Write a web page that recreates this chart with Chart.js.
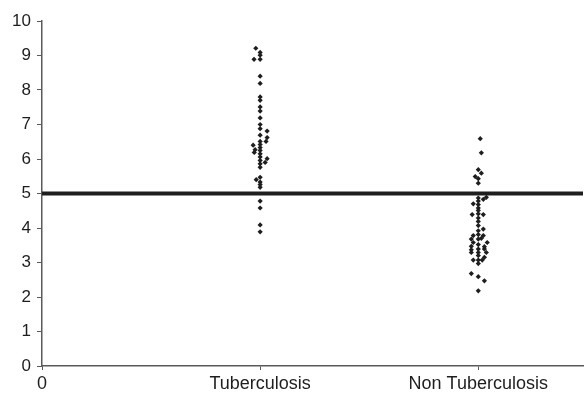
<!DOCTYPE html>
<html>
<head>
<meta charset="utf-8">
<script src="https://cdn.jsdelivr.net/npm/chart.js@4"></script>
<style>
  html, body { margin: 0; padding: 0; background: #fff; overflow: hidden; }
  canvas { display: block; }
</style>
</head>
<body>
<canvas id="dotChart" width="587" height="394"></canvas>
<script>
  // categories on the x axis (0 is the axis origin label)
  const categories = ['0', 'Tuberculosis', 'Non Tuberculosis'];
  const yTicks = [0, 1, 2, 3, 4, 5, 6, 7, 8, 9, 10];
  const cutoff = 5;

  // Tuberculosis group: values and small horizontal jitter (category units)
  const tbValues = [9.21, 9.09, 9.01, 8.89, 8.89, 8.40, 8.19, 7.80, 7.70, 7.51,
    7.39, 7.19, 7.00, 6.88, 6.81, 6.69, 6.62, 6.51, 6.51, 6.42,
    6.40, 6.33, 6.27, 6.25, 6.19, 6.15, 6.06, 6.01, 5.96, 5.90,
    5.86, 5.76, 5.47, 5.40, 5.33, 5.26, 5.18, 4.78, 4.58, 4.09, 3.89];
  const tbJitter = [-0.02, 0, 0, -0.028, 0, 0, 0, 0, 0, 0,
    0, 0, 0, 0, 0.032, 0, 0.032, 0.027, 0, 0,
    -0.032, 0, -0.023, 0, -0.027, 0, 0, 0.032, 0, 0.023,
    0, 0, 0, -0.018, 0, 0, 0, 0, 0, 0, 0];

  // Non Tuberculosis group
  const ntbValues = [6.59, 6.18, 5.69, 5.59, 5.49, 5.43, 5.30, 4.89, 4.87, 4.83,
    4.78, 4.70, 4.68, 4.58, 4.51, 4.41, 4.39, 4.39, 4.29, 4.19,
    4.07, 3.97, 3.92, 3.81, 3.78, 3.78, 3.68, 3.68, 3.70, 3.58,
    3.58, 3.52, 3.47, 3.46, 3.39, 3.37, 3.39, 3.29, 3.29, 3.29,
    3.20, 3.15, 3.07, 3.07, 3.07, 2.97, 2.68, 2.59, 2.47, 2.18];
  const ntbJitter = [0.009, 0.014, 0, 0.014, -0.014, 0, 0, 0.037, 0, 0.023,
    0, -0.023, 0, 0, 0, 0, -0.028, 0.023, 0, 0,
    0, 0.023, 0, 0, -0.023, 0.023, -0.032, 0, 0.014, -0.023,
    0.041, 0, -0.032, 0.028, 0, -0.032, 0.028, -0.032, 0, 0.037,
    0, 0.028, -0.023, 0, 0.018, 0, -0.032, 0, 0.028, 0];

  const ink = '#1e1e1e';
  const axisGray = '#5a5a5a';

  function toPoints(values, jitter, pos) {
    return values.map((v, i) => ({ x: pos + jitter[i], y: v }));
  }

  const ctx = document.getElementById('dotChart').getContext('2d');
  new Chart(ctx, {
    type: 'scatter',
    data: {
      datasets: [
        {
          data: toPoints(tbValues, tbJitter, 1),
          pointStyle: 'rectRot',
          pointRadius: 2.6,
          backgroundColor: ink,
          borderWidth: 0
        },
        {
          data: toPoints(ntbValues, ntbJitter, 2),
          pointStyle: 'rectRot',
          pointRadius: 2.6,
          backgroundColor: ink,
          borderWidth: 0
        },
        {
          type: 'line',
          data: [{ x: 0, y: cutoff }, { x: 2.48, y: cutoff }],
          borderColor: ink,
          borderWidth: 4,
          pointRadius: 0
        }
      ]
    },
    options: {
      responsive: false,
      animation: false,
      layout: { padding: { top: 21, right: 0, left: 0, bottom: 0 } },
      plugins: {
        legend: { display: false },
        tooltip: { enabled: false }
      },
      scales: {
        x: {
          type: 'linear',
          min: 0,
          max: 2.48,
          afterBuildTicks: function (scale) {
            scale.ticks = categories.map((c, i) => ({ value: i }));
          },
          afterFit: function (scale) { scale.height = 28; },
          ticks: {
            autoSkip: false,
            maxRotation: 0,
            padding: 3,
            color: ink,
            font: { family: 'Liberation Sans, Arial', size: 18 },
            callback: function (value) { return categories[value]; }
          },
          grid: {
            drawOnChartArea: false,
            drawTicks: true,
            tickLength: 4,
            color: axisGray
          },
          border: { display: true, color: axisGray, width: 1.5 }
        },
        y: {
          min: 0,
          max: 10,
          afterBuildTicks: function (scale) {
            scale.ticks = yTicks.map(v => ({ value: v }));
          },
          afterFit: function (scale) { scale.width = 42; },
          ticks: {
            padding: 6,
            color: ink,
            font: { family: 'Liberation Sans, Arial', size: 17 }
          },
          grid: {
            drawOnChartArea: false,
            drawTicks: true,
            tickLength: 5,
            color: axisGray
          },
          border: { display: true, color: axisGray, width: 1.5 }
        }
      }
    }
  });
</script>
</body>
</html>
